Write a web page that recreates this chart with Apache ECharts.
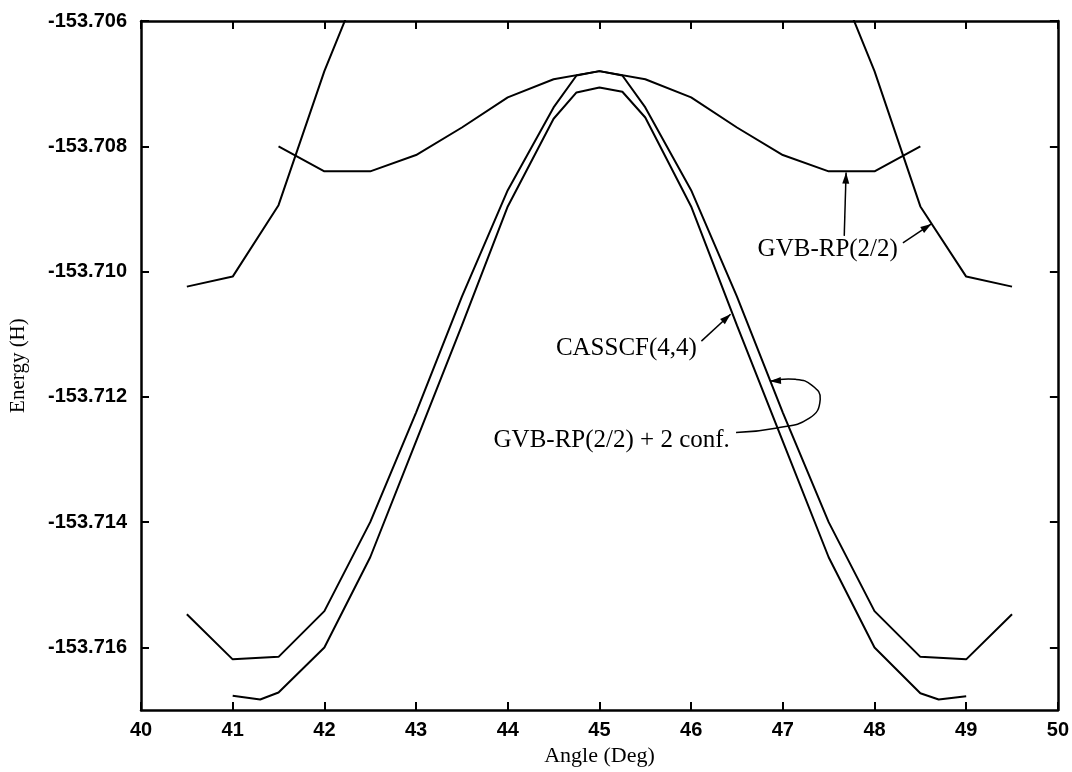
<!DOCTYPE html>
<html><head><meta charset="utf-8">
<script src="https://cdn.jsdelivr.net/npm/echarts@6/dist/echarts.min.js"></script>
<style>html,body{margin:0;padding:0;background:#fff}#c{width:1072px;height:772px}</style>
</head><body><div id="c"></div>
<script>
// ---- data ----
const yTickValues = [-153.716, -153.714, -153.712, -153.710, -153.708, -153.706];

// GVB-RP(2/2): central branch
const gvbCapAngle  = [41.5, 42, 42.5, 43, 43.5, 44, 44.5, 45, 45.5, 46, 46.5, 47, 47.5, 48, 48.5];
const gvbCapEnergy = [-153.7080, -153.7084, -153.7084, -153.70814, -153.7077, -153.70722, -153.70693, -153.7068,
                      -153.70693, -153.70722, -153.7077, -153.70814, -153.7084, -153.7084, -153.7080];
// GVB-RP(2/2): outer branches
const gvbLeftAngle   = [40.5, 41, 41.5, 42, 42.5];
const gvbLeftEnergy  = [-153.71024, -153.71008, -153.70894, -153.7068, -153.7050];
const gvbRightAngle  = [47.5, 48, 48.5, 49, 49.5];
const gvbRightEnergy = [-153.7050, -153.7068, -153.70896, -153.71008, -153.71024];

// GVB-RP(2/2) + 2 conf.
const gvb2Angle  = [40.5, 41, 41.5, 42, 42.5, 43, 43.5, 44, 44.5, 44.75, 45, 45.25, 45.5, 46, 46.5, 47, 47.5, 48, 48.5, 49, 49.5];
const gvb2Energy = [-153.71547, -153.71619, -153.71615, -153.71542, -153.7140, -153.71225, -153.7104, -153.7087,
                    -153.70738, -153.70687, -153.7068, -153.70687, -153.70738, -153.7087, -153.7104, -153.71225,
                    -153.7140, -153.71542, -153.71615, -153.71619, -153.71547];
// CASSCF(4,4)
const casAngle  = [41, 41.3, 41.5, 42, 42.5, 43, 43.5, 44, 44.5, 44.75, 45, 45.25, 45.5, 46, 46.5, 47, 47.5, 48, 48.5, 48.7, 49];
const casEnergy = [-153.71677, -153.71683, -153.71672, -153.7160, -153.71456, -153.71271, -153.71086, -153.70896,
                   -153.70756, -153.70714, -153.70706, -153.70713, -153.70754, -153.70896, -153.71086, -153.71271,
                   -153.71456, -153.7160, -153.71673, -153.71683, -153.71678];

// annotations (data coordinates)
const labelGvb   = {text: 'GVB-RP(2/2)', at: [47.49, -153.70965]};
const labelCas   = {text: 'CASSCF(4,4)', at: [44.525, -153.71123]};
const labelGvb2  = {text: 'GVB-RP(2/2) + 2 conf.', at: [43.845, -153.71270]};
const arrowGvbA  = [[47.67, -153.70943], [47.69, -153.70842]];
const arrowGvbB  = [[48.31, -153.70954], [48.62, -153.70924]];
const arrowCas   = [[46.112, -153.71111], [46.43, -153.71068]];
const arrowGvb2  = [[46.49, -153.71257], [46.92, -153.71250], [47.29, -153.71234], [47.408, -153.71204],
                    [47.322, -153.71182], [47.138, -153.71172], [46.86, -153.71175]];

const zip = (a, b) => a.map((v, i) => [v, b[i]]);

const chart = echarts.init(document.getElementById('c'), null, {renderer: 'canvas'});
const lineStyle = {color: '#000', width: 2};
const mkSeries = (name, a, e) => ({
  type: 'line', name, data: zip(a, e), showSymbol: false, symbol: 'none',
  lineStyle, itemStyle: {color: '#000'}, clip: true, animation: false, silent: true
});
const tickFont = {fontFamily: 'Liberation Sans', fontWeight: 'bold', fontSize: 20, color: '#000'};
const axisLine = {show: true, lineStyle: {color: '#000', width: 2.5}};
const axisTick = {show: true, inside: true, length: 8, lineStyle: {color: '#000', width: 2}};

chart.setOption({
  animation: false,
  backgroundColor: '#fff',
  grid: {left: 132, right: 14, top: 21, bottom: 55, containLabel: false},
  xAxis: [
    {type: 'value', position: 'bottom', min: 40, max: 50, interval: 1,
     axisLine, axisTick, splitLine: {show: false},
     axisLabel: Object.assign({margin: 10}, tickFont),
     name: 'Angle (Deg)', nameLocation: 'middle', nameGap: 30,
     nameTextStyle: {fontFamily: 'Liberation Serif', fontSize: 22, color: '#000'}},
    {type: 'value', position: 'top', min: 40, max: 50, interval: 1,
     axisLine, axisTick, splitLine: {show: false}, axisLabel: {show: false}}
  ],
  yAxis: [
    {type: 'value', position: 'left', min: -153.717, max: -153.706,
     axisLine, axisTick: Object.assign({customValues: yTickValues}, axisTick),
     splitLine: {show: false},
     axisLabel: Object.assign({margin: 14, customValues: yTickValues, formatter: v => v.toFixed(3)}, tickFont),
     name: 'Energy (H)', nameLocation: 'middle', nameGap: 112, nameRotate: 90,
     nameTextStyle: {fontFamily: 'Liberation Serif', fontSize: 21, color: '#000'}},
    {type: 'value', position: 'right', min: -153.717, max: -153.706,
     axisLine, axisTick: Object.assign({customValues: yTickValues}, axisTick),
     splitLine: {show: false}, axisLabel: {show: false}}
  ],
  series: [
    mkSeries('GVB-RP(2/2)', gvbCapAngle, gvbCapEnergy),
    mkSeries('GVB-RP(2/2) left', gvbLeftAngle, gvbLeftEnergy),
    mkSeries('GVB-RP(2/2) right', gvbRightAngle, gvbRightEnergy),
    mkSeries('GVB-RP(2/2) + 2 conf.', gvb2Angle, gvb2Energy),
    mkSeries('CASSCF(4,4)', casAngle, casEnergy)
  ]
});

// annotations drawn from data coordinates
const px = p => chart.convertToPixel({xAxisIndex: 0, yAxisIndex: 0}, p);
const labelFont = {fontFamily: 'Liberation Serif', fontSize: 25, fill: '#000'};
function textEl(lbl, align) {
  const p = px(lbl.at);
  return {type: 'text', x: p[0], y: p[1], z: 10,
          style: Object.assign({text: lbl.text, align: align, verticalAlign: 'middle'}, labelFont)};
}
function headEl(from, to) {
  const dx = to[0] - from[0], dy = to[1] - from[1];
  const L = Math.hypot(dx, dy) || 1, ux = dx / L, uy = dy / L;
  const len = 11, w = 3.5;
  const bx = to[0] - ux * len, by = to[1] - uy * len;
  return {type: 'polygon', z: 10, shape: {points: [to, [bx - uy * w, by + ux * w], [bx + uy * w, by - ux * w]]},
          style: {fill: '#000'}};
}
function arrowEls(pts, smooth) {
  const p = pts.map(px);
  return [
    {type: 'polyline', z: 10, shape: {points: p, smooth: smooth || 0}, style: {stroke: '#000', lineWidth: 1.5, fill: null}},
    headEl(p[p.length - 2], p[p.length - 1])
  ];
}
chart.setOption({
  graphic: [
    textEl(labelGvb, 'center'),
    textEl(labelCas, 'left'),
    textEl(labelGvb2, 'left'),
    ...arrowEls(arrowGvbA),
    ...arrowEls(arrowGvbB),
    ...arrowEls(arrowCas),
    ...arrowEls(arrowGvb2, 0.5)
  ]
});
</script>
</body></html>
